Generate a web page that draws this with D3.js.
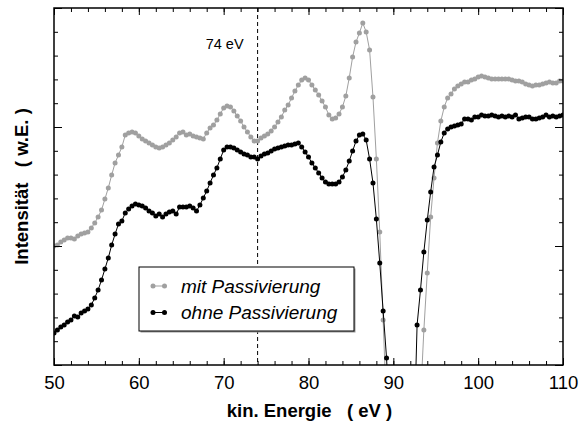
<!DOCTYPE html>
<html>
<head>
<meta charset="utf-8">
<script src="https://cdn.jsdelivr.net/npm/d3@7"></script>
<style>
  body { margin: 0; background: #fff; }
  text { font-family: Arial, "Liberation Sans", sans-serif; }
</style>
</head>
<body>
<svg id="chart" width="581" height="422"></svg>
<script>
// energy grid of the measurement (eV)
const energyStart = 50
const energyStep = 0.4

// intensity, arbitrary units, one value per energy step
const mitPassivierung = [
  5.00, 5.04, 5.17, 5.25, 5.34, 5.34, 5.29, 5.42, 5.50, 5.55,
  5.59, 5.76, 5.97, 6.22, 6.51, 6.97, 7.44, 7.98, 8.49, 8.82,
  9.16, 9.66, 9.75, 9.79, 9.75, 9.62, 9.50, 9.41, 9.33, 9.24,
  9.16, 9.12, 9.16, 9.24, 9.33, 9.45, 9.58, 9.75, 9.79, 9.66,
  9.71, 9.62, 9.58, 9.54, 9.50, 9.75, 9.96, 10.08, 10.29, 10.55,
  10.80, 10.88, 10.84, 10.67, 10.46, 10.25, 10.00, 9.79, 9.58, 9.41,
  9.41, 9.54, 9.62, 9.71, 9.83, 10.00, 10.21, 10.42, 10.71, 10.92,
  11.22, 11.51, 11.76, 11.97, 12.06, 11.97, 11.76, 11.55, 11.34, 11.09,
  10.84, 10.50, 10.34, 10.38, 10.55, 10.84, 11.30, 12.06, 12.94, 13.57,
  13.95, 14.37, 13.99, 13.24, 11.26, 8.66, 5.59, 1.89, -1.89, -4.5,
  -7.0, -8.5, -9.0, -9.0, -8.5, -7.0, -5.0, -3.2, -1.47, 1.47,
  3.87, 6.22, 7.86, 9.33, 10.25, 10.84, 11.22, 11.39, 11.60, 11.72,
  11.81, 11.89, 11.89, 11.97, 12.02, 12.10, 12.14, 12.10, 12.06, 12.02,
  12.02, 12.02, 12.02, 12.02, 12.02, 11.97, 11.93, 11.93, 11.89, 11.81,
  11.76, 11.72, 11.76, 11.76, 11.81, 11.85, 11.89, 11.85, 11.85, 11.93,
  11.93
]

const ohnePassivierung = [
  1.34, 1.47, 1.60, 1.68, 1.81, 1.89, 2.06, 2.02, 2.18, 2.27,
  2.35, 2.52, 2.82, 3.15, 3.57, 4.03, 4.50, 5.04, 5.50, 5.92,
  6.05, 6.39, 6.55, 6.68, 6.76, 6.72, 6.68, 6.60, 6.47, 6.39,
  6.26, 6.34, 6.22, 6.34, 6.43, 6.47, 6.34, 6.64, 6.64, 6.64,
  6.68, 6.60, 6.47, 6.72, 7.02, 7.31, 7.65, 7.98, 8.28, 8.66,
  9.03, 9.16, 9.16, 9.12, 9.03, 8.95, 8.87, 8.82, 8.74, 8.74,
  8.66, 8.78, 8.87, 8.91, 8.99, 9.08, 9.12, 9.16, 9.20, 9.24,
  9.24, 9.29, 9.33, 9.16, 8.95, 8.74, 8.49, 8.28, 8.07, 7.86,
  7.69, 7.61, 7.61, 7.61, 7.69, 7.90, 8.19, 8.57, 8.99, 9.41,
  9.66, 9.71, 9.45, 8.66, 7.65, 6.13, 4.29, 2.27, 0.29, -2.5,
  -5.0, -7.0, -8.0, -8.5, -8.0, -6.5, -3.6, 1.68, 3.15, 4.75,
  6.09, 7.27, 8.32, 8.82, 9.37, 9.75, 9.92, 10.00, 10.04, 10.08,
  10.13, 10.34, 10.34, 10.29, 10.42, 10.42, 10.50, 10.46, 10.46, 10.50,
  10.46, 10.42, 10.46, 10.42, 10.46, 10.42, 10.50, 10.34, 10.38, 10.42,
  10.42, 10.34, 10.34, 10.38, 10.42, 10.50, 10.42, 10.46, 10.42, 10.46,
  10.50
]

const seriesNames = ['mit Passivierung', 'ohne Passivierung']
const seriesColors = ['#a0a0a0', '#000000']
const xMajorTicks = [50, 60, 70, 80, 90, 100, 110]
const markerEnergy = 74
const markerLabel = '74 eV'

const margin = { top: 8, right: 18, bottom: 57, left: 54 }
const W = 581, H = 422
const innerW = W - margin.left - margin.right
const innerH = H - margin.top - margin.bottom

const svg = d3.select('#chart')
const g = svg.append('g').attr('transform', `translate(${margin.left},${margin.top})`)

const x = d3.scaleLinear().domain([50, 110]).range([0, innerW])
const y = d3.scaleLinear().domain([0, 15]).range([innerH, 0])

svg.append('defs').append('clipPath').attr('id', 'plotClip')
  .append('rect').attr('width', innerW).attr('height', innerH)

function toPoints(values) {
  return values.map((v, i) => ({ e: energyStart + i * energyStep, v: v }))
}

const line = d3.line().x(d => x(d.e)).y(d => y(d.v))

const plot = g.append('g').attr('clip-path', 'url(#plotClip)')

// dashed marker line
plot.append('line')
  .attr('x1', x(markerEnergy)).attr('x2', x(markerEnergy))
  .attr('y1', 0).attr('y2', innerH)
  .attr('stroke', '#000').attr('stroke-width', 1)
  .attr('stroke-dasharray', '4,3')

g.append('text')
  .attr('x', x(markerEnergy) - 14).attr('y', 41)
  .attr('text-anchor', 'end')
  .attr('font-size', 14.5)
  .text(markerLabel)

const allSeries = [mitPassivierung, ohnePassivierung]
allSeries.forEach((vals, k) => {
  const pts = toPoints(vals)
  plot.append('path')
    .datum(pts)
    .attr('fill', 'none')
    .attr('stroke', seriesColors[k])
    .attr('stroke-width', 1)
    .attr('d', line)
  plot.selectAll('circle.s' + k)
    .data(pts.filter(d => d.v >= -0.2))
    .enter().append('circle')
    .attr('class', 's' + k)
    .attr('cx', d => x(d.e))
    .attr('cy', d => y(d.v))
    .attr('r', 2.5)
    .attr('fill', seriesColors[k])
})

// axes: ticks pointing inward on all four sides
function styleAxis(sel) {
  sel.select('.domain').remove()
  sel.selectAll('line').attr('stroke', '#000').attr('stroke-width', 1)
}

g.append('g').attr('transform', `translate(0,${innerH})`)
  .call(d3.axisBottom(x).tickValues(d3.range(50, 111, 2)).tickSize(-4).tickFormat(''))
  .call(styleAxis)
g.append('g').attr('transform', `translate(0,${innerH})`)
  .call(d3.axisBottom(x).tickValues(xMajorTicks).tickSize(-7).tickPadding(11).tickFormat(d3.format('d')))
  .call(styleAxis)
  .selectAll('text').attr('font-size', 18.5).attr('fill', '#000')
  .attr('font-family', 'Arial, "Liberation Sans", sans-serif')

g.append('g')
  .call(d3.axisTop(x).tickValues(d3.range(50, 111, 2)).tickSize(-4).tickFormat(''))
  .call(styleAxis)
g.append('g')
  .call(d3.axisTop(x).tickValues(xMajorTicks).tickSize(-7).tickFormat(''))
  .call(styleAxis)

g.append('g')
  .call(d3.axisLeft(y).tickValues(d3.range(0, 16, 1)).tickSize(-4).tickFormat(''))
  .call(styleAxis)
g.append('g')
  .call(d3.axisLeft(y).tickValues([0, 5, 10, 15]).tickSize(-8).tickFormat(''))
  .call(styleAxis)
g.append('g').attr('transform', `translate(${innerW},0)`)
  .call(d3.axisRight(y).tickValues(d3.range(0, 16, 1)).tickSize(-4).tickFormat(''))
  .call(styleAxis)
g.append('g').attr('transform', `translate(${innerW},0)`)
  .call(d3.axisRight(y).tickValues([0, 5, 10, 15]).tickSize(-8).tickFormat(''))
  .call(styleAxis)

g.append('rect')
  .attr('width', innerW).attr('height', innerH)
  .attr('fill', 'none').attr('stroke', '#000').attr('stroke-width', 1.5)

// legend
const lg = g.append('g').attr('transform', 'translate(85,259)')
lg.append('rect').attr('x', 1.5).attr('y', 1.5).attr('width', 215).attr('height', 64).attr('fill', '#999')
lg.append('rect').attr('width', 215).attr('height', 64)
  .attr('fill', '#fff').attr('stroke', '#000').attr('stroke-width', 1)
seriesNames.forEach((name, k) => {
  const ly = 19 + k * 26.5
  lg.append('line').attr('x1', 14).attr('x2', 25.5).attr('y1', ly).attr('y2', ly)
    .attr('stroke', seriesColors[k]).attr('stroke-width', 1)
  ;[14, 25.5].forEach(cx => {
    lg.append('circle').attr('cx', cx).attr('cy', ly).attr('r', 2.5).attr('fill', seriesColors[k])
  })
  lg.append('text').attr('x', 42).attr('y', ly + 6.5)
    .attr('font-size', 19).attr('font-style', 'italic')
    .text(name)
})

// axis titles
svg.append('text')
  .attr('x', margin.left + innerW / 2 + 1).attr('y', 417)
  .attr('text-anchor', 'middle').attr('font-size', 18.5).attr('font-weight', 'bold')
  .attr('xml:space', 'preserve')
  .text('kin. Energie   ( eV )')

svg.append('text')
  .attr('transform', `translate(28,${margin.top + innerH / 2}) rotate(-90)`)
  .attr('text-anchor', 'middle').attr('font-size', 18.5).attr('font-weight', 'bold')
  .attr('xml:space', 'preserve')
  .text('Intensität   ( w.E. )')
</script>
</body>
</html>
